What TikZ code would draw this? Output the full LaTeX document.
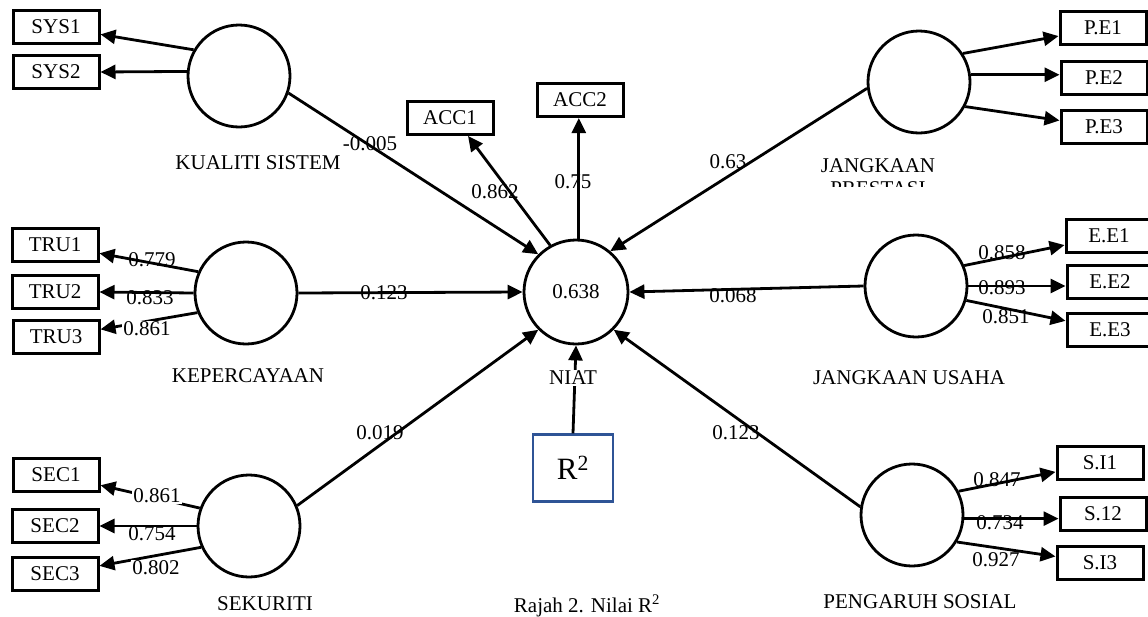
\documentclass[tikz,border=0pt]{standalone}
\usepackage{fontspec}
\setmainfont{Liberation Serif}
\usetikzlibrary{arrows.meta}
\begin{document}
\begin{tikzpicture}[x=1pt,y=-1pt,
  every node/.style={font=\fontsize{21}{25}\selectfont, inner sep=0pt},
  lv/.style={circle,draw,line width=2.8pt,minimum size=102pt},
  ind/.style={rectangle,draw,line width=3pt,minimum width=86pt,minimum height=33pt},
  arr/.style={line width=2.8pt,-{Triangle[length=15pt,width=14pt]}},
  wl/.style={fill=white,inner sep=1pt}
]
\clip (0,0) rectangle (1148,616);
\fill[white] (0,0) rectangle (1148,616);

% latent variables
\node[lv] (ks) at (239,76) {};
\node[lv] (kep) at (246,293) {};
\node[lv] (sec) at (249,526) {};
\node[lv] (jp) at (919,82) {};
\node[lv] (ju) at (916,286) {};
\node[lv] (ps) at (912,515) {};
\node[lv,minimum size=104pt] (niat) at (576,292) {0.638};

% latent labels
\node (lks) at (258,163) {KUALITI SISTEM};
\node (lkep) at (248,376) {KEPERCAYAAN};
\node (lsec) at (265,604) {SEKURITI};
\node[anchor=base] (ljp) at (878,172) {JANGKAAN};
\begin{scope}
\clip (800,150) rectangle (960,186);
\node[anchor=base] (ljp2) at (878,195) {PRESTASI};
\end{scope}
\node (lju) at (909,378) {JANGKAAN USAHA};
\node (lps) at (920,602) {PENGARUH SOSIAL};

% indicators
\node[ind] (sys1) at (56,27) {SYS1};
\node[ind] (sys2) at (56,72) {SYS2};
\node[ind] (tru1) at (55,245) {TRU1};
\node[ind] (tru2) at (55,292) {TRU2};
\node[ind] (tru3) at (56,337) {TRU3};
\node[ind] (sec1) at (56,475) {SEC1};
\node[ind] (sec2) at (55,526) {SEC2};
\node[ind] (sec3) at (55,574) {SEC3};
\node[ind] (acc1) at (450,118) {ACC1};
\node[ind] (acc2) at (580,100) {ACC2};
\node[ind] (pe1) at (1103,28) {P.E1};
\node[ind] (pe2) at (1104,78) {P.E2};
\node[ind] (pe3) at (1104,127) {P.E3};
\node[ind] (ee1) at (1109,236) {E.E1};
\node[ind] (ee2) at (1110,282) {E.E2};
\node[ind] (ee3) at (1110,330) {E.E3};
\node[ind] (si1) at (1100,463) {S.I1};
\node[ind] (si2) at (1103,514) {S.12};
\node[ind] (si3) at (1100,563) {S.I3};

% R2 box
\node[rectangle,draw={rgb,255:red,47;green,84;blue,150},line width=2.2pt,
      minimum width=80pt,minimum height=67pt,
      font=\fontsize{31}{35}\selectfont] (r2) at (573,468) {R\textsuperscript{2}};
\draw[arr] (r2.north) -- (niat.south);
\node[wl] (lniat) at (573,378) {NIAT};

% outer model arrows
\draw[arr] (ks.150) -- (sys1);
\draw[arr] (ks.175) -- (sys2.east);
\draw[arr] (kep.156) -- (tru1);
\draw[arr] (kep.west) -- (tru2.east);
\draw[arr] (kep.202) -- (tru3);
\draw[arr] (sec.160) -- (sec1);
\draw[arr] (sec.west) -- (sec2.east);
\draw[arr] (sec.204) -- (sec3);
\draw[arr] (jp.33) -- (pe1);
\draw[arr] (jp.8) -- (jp.8 -| pe2.west);
\draw[arr] (jp.332) -- (pe3);
\draw[arr] (ju.23) -- (ee1);
\draw[arr] (ju.east) -- (ju.east -| ee2.west);
\draw[arr] (ju.344) -- (ee3);
\draw[arr] (ps.27) -- (si1);
\draw[arr] (ps.-4) -- (ps.-4 -| si2.west);
\draw[arr] (ps.329) -- (si3);
\draw[arr] (niat.119) -- (acc1.-45);
\draw[arr] (niat.87) -- (niat.87 |- acc2.south);

% inner model arrows
\draw[arr] (ks.-19) -- (niat.135);
\draw[arr] (kep.east) -- (niat.west);
\draw[arr] (sec.23) -- (niat.225);
\draw[arr] (jp.187) -- (niat.50);
\draw[arr] (ju.west) -- (niat.east);
\draw[arr] (ps.171) -- (niat.-45);

% loadings
\node (w1) at (152,260) {0.779};
\node (w2) at (150,298) {0.833};
\node[wl] (w3) at (147,329) {0.861};
\node[wl] (w4) at (157,496) {0.861};
\node (w5) at (152,534) {0.754};
\node[wl] (w6) at (156,568) {0.802};
\node (w7) at (1002,253) {0.858};
\node (w8) at (1002,288) {0.893};
\node (w9) at (1006,317) {0.851};
\node (w10) at (997,480) {0.847};
\node (w11) at (1000,523) {0.734};
\node (w12) at (996,560) {0.927};
\node (w13) at (495,192) {0.862};
\node (w14) at (573,182) {0.75};

% path coefficients
\node (p1) at (370,144) {-0.005};
\node (p2) at (384,293) {0.123};
\node (p3) at (380,433) {0.019};
\node (p4) at (728,162) {0.63};
\node (p5) at (733,296) {0.068};
\node (p6) at (736,433) {0.123};

% caption
\node[anchor=base] (cap) at (587,612) {Rajah 2. Nilai R\textsuperscript{2}};
\end{tikzpicture}
\end{document}
